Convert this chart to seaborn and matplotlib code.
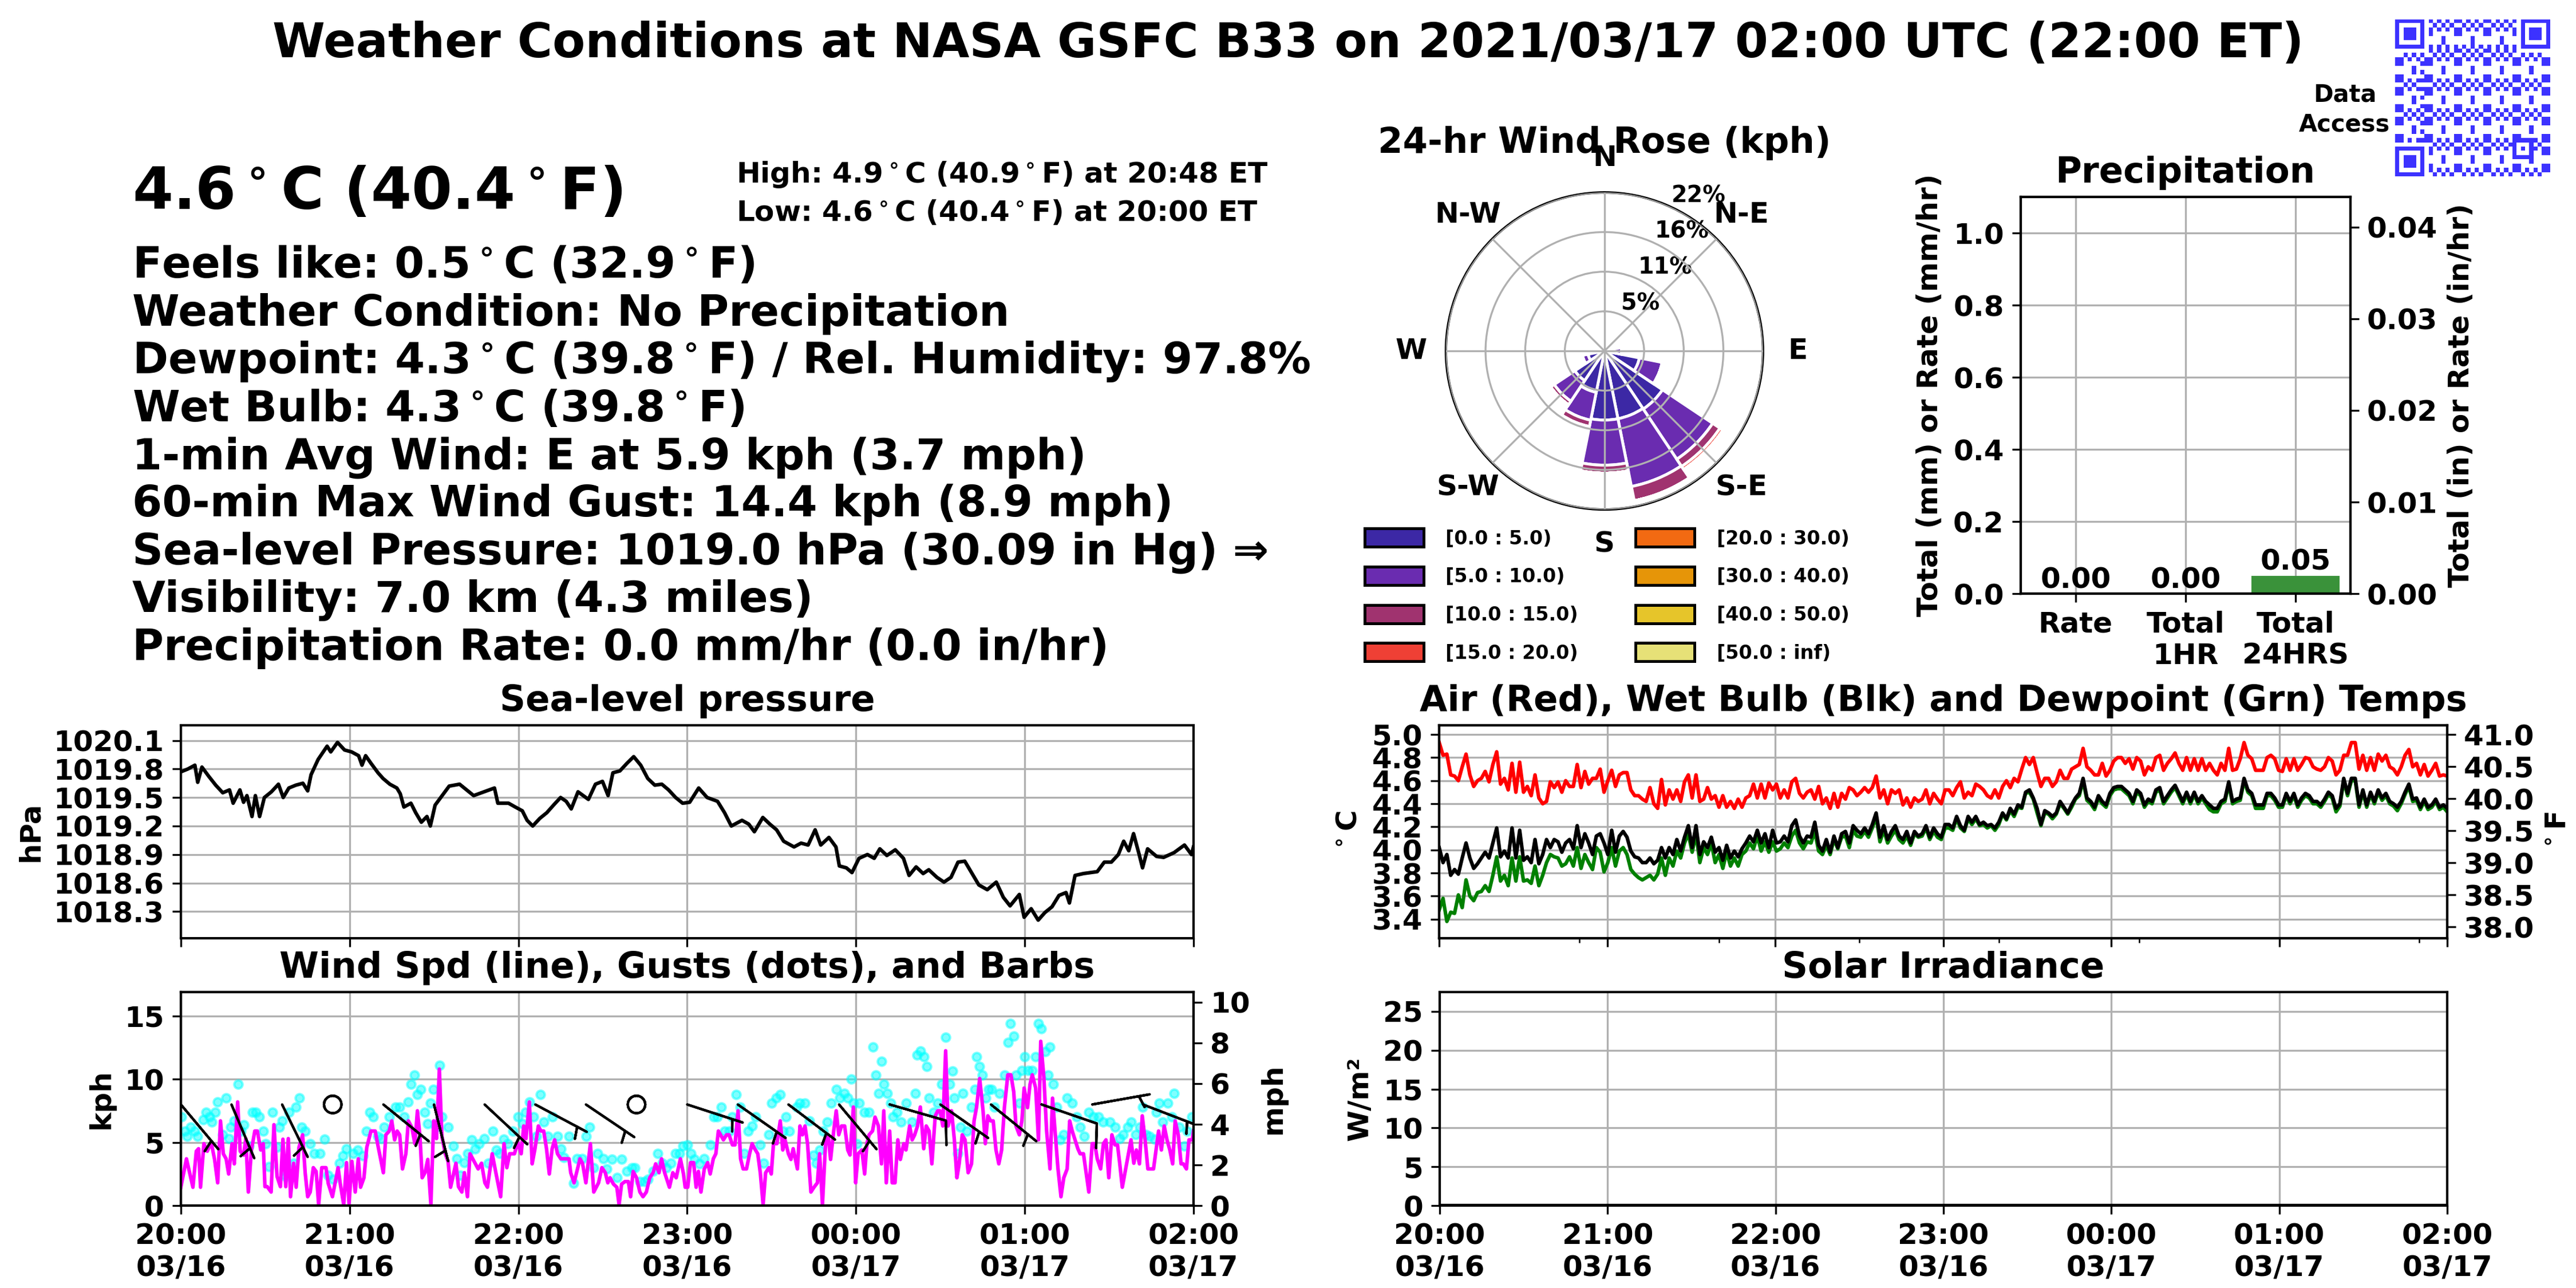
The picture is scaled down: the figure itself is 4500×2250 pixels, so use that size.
import numpy as np
import pandas as pd
import matplotlib
matplotlib.use('Agg')
import matplotlib.pyplot as plt
import matplotlib.dates as mdates
from matplotlib.patches import Patch
from matplotlib.colors import ListedColormap
from matplotlib.ticker import FixedLocator
import seaborn as sns

plt.rcParams['font.family'] = ['DejaVu Sans']
plt.rcParams['font.weight'] = 'bold'
plt.rcParams['axes.titleweight'] = 'bold'
plt.rcParams['axes.labelweight'] = 'bold'
plt.rcParams['font.size'] = 12
plt.rcParams['axes.titlesize'] = 15
plt.rcParams['axes.labelsize'] = 12
plt.rcParams['axes.linewidth'] = 1.0

# ---------------- data ----------------
start = pd.Timestamp('2021-03-16 20:00')
end = pd.Timestamp('2021-03-17 02:00')

# sea-level pressure (minutes after 20:00 UTC, hPa)
p_min = [0, 2.5, 5, 6, 7.5, 10, 12.4, 14.9, 17.3, 18.6,
         21, 22.3, 23.5, 25.3, 26.5, 28, 29.7, 32.2, 34.7, 36.4,
         38.4, 40.9, 43.4, 45.1, 46.3, 48.8, 52, 53.3, 55.7, 58.2,
         60.7, 63.2, 64.4, 65.7, 67.6, 70.1, 71.9, 74.3, 76.8, 78,
         79.3, 81.8, 83.5, 85.5, 87.5, 88.7, 90.4, 92.9, 95.4, 99.1,
         101.6, 104.1, 107.8, 111.5, 112.7, 116.5, 118.9, 121.4, 123.1, 125.1,
         127.6, 130.1, 132.5, 135, 137, 138.8, 141.2, 144.9, 147.4, 149.9,
         151.9, 153.6, 156.1, 158.6, 161, 163.5, 166, 168.5, 171, 173.4,
         175.9, 178.4, 180.9, 184.1, 187.1, 190.8, 193.3, 195.7, 199.5, 201.9,
         203.9, 206.9, 209.4, 211.8, 214.3, 218, 220.5, 223, 225.5, 227.5,
         230.4, 232.9, 234.1, 236.6, 238.6, 241.1, 244.1, 246.5, 248.5, 251,
         254, 256.9, 258.9, 261.4, 263.9, 265.9, 268.8, 271.3, 273.8, 276.3,
         278.7, 281.7, 283.7, 286.7, 289.9, 292.4, 294.8, 298.1, 299.8, 302.3,
         304.8, 307.2, 309.7, 312.2, 314.7, 315.9, 317.9, 320.9, 323.3, 325.8,
         328.3, 330.8, 333.3, 335.2, 337, 338.7, 340.7, 341.9, 343.7, 346.9,
         349.4, 353.1, 356.8, 359.3, 360]
p_hpa = [1019.77, 1019.80, 1019.84, 1019.66, 1019.82, 1019.72, 1019.63, 1019.55, 1019.58, 1019.44,
         1019.58, 1019.45, 1019.52, 1019.30, 1019.52, 1019.30, 1019.50, 1019.56, 1019.64, 1019.50,
         1019.60, 1019.63, 1019.65, 1019.57, 1019.74, 1019.90, 1020.04, 1019.98, 1020.08, 1020.00,
         1019.98, 1019.94, 1019.84, 1019.94, 1019.86, 1019.76, 1019.70, 1019.64, 1019.60, 1019.54,
         1019.40, 1019.44, 1019.34, 1019.24, 1019.30, 1019.20, 1019.42, 1019.52, 1019.62, 1019.64,
         1019.58, 1019.52, 1019.56, 1019.60, 1019.44, 1019.44, 1019.40, 1019.36, 1019.26, 1019.20,
         1019.28, 1019.34, 1019.42, 1019.50, 1019.46, 1019.38, 1019.56, 1019.48, 1019.64, 1019.67,
         1019.52, 1019.76, 1019.78, 1019.86, 1019.93, 1019.84, 1019.70, 1019.63, 1019.64, 1019.58,
         1019.50, 1019.44, 1019.45, 1019.60, 1019.50, 1019.46, 1019.34, 1019.20, 1019.26, 1019.22,
         1019.14, 1019.29, 1019.22, 1019.16, 1019.04, 1018.98, 1019.02, 1019.00, 1019.16, 1019.00,
         1019.08, 1018.98, 1018.78, 1018.76, 1018.71, 1018.86, 1018.90, 1018.86, 1018.96, 1018.89,
         1018.95, 1018.86, 1018.68, 1018.77, 1018.70, 1018.74, 1018.66, 1018.61, 1018.66, 1018.82,
         1018.83, 1018.68, 1018.58, 1018.53, 1018.61, 1018.45, 1018.36, 1018.48, 1018.24, 1018.33,
         1018.21, 1018.29, 1018.35, 1018.47, 1018.50, 1018.39, 1018.68, 1018.70, 1018.71, 1018.72,
         1018.82, 1018.82, 1018.90, 1019.04, 1018.94, 1019.12, 1018.90, 1018.76, 1018.96, 1018.88,
         1018.87, 1018.92, 1019.00, 1018.90, 1018.98]
p_ticks = [1018.3, 1018.6, 1018.9, 1019.2, 1019.5, 1019.8, 1020.1]

# 1-min wind speed (kph)
wind_min = [0.0, 2.0, 4.3, 5.5, 6.3, 7.0, 8.2, 9.4, 10.8, 12.0,
            13.1, 14.1, 15.1, 16.1, 17.0, 18.2, 19.0, 20.2, 21.1, 22.3,
            23.1, 24.0, 25.1, 26.3, 27.2, 28.4, 29.3, 29.9, 30.7, 32.1,
            33.1, 34.2, 35.4, 36.3, 37.3, 38.2, 39.0, 40.1, 41.0, 42.0,
            43.3, 44.2, 45.1, 46.0, 47.1, 48.1, 49.0, 50.1, 51.6, 52.4,
            53.9, 55.9, 56.7, 57.9, 58.9, 59.8, 60.8, 62.0, 63.1, 63.9,
            65.1, 66.1, 67.6, 69.1, 70.2, 72.0, 72.9, 74.1, 75.0, 76.0,
            76.9, 77.8, 78.8, 80.0, 80.9, 82.1, 83.2, 84.1, 85.0, 85.8,
            86.8, 87.8, 88.9, 89.9, 90.9, 91.9, 92.8, 94.0, 95.0, 95.9,
            97.8, 98.7, 99.9, 100.8, 101.9, 102.8, 104.6, 105.7, 106.9, 108.1,
            109.0, 110.7, 112.0, 113.7, 114.9, 115.9, 116.9, 118.6, 119.8, 121.0,
            121.9, 122.7, 123.9, 124.9, 125.9, 127.1, 128.0, 129.0, 130.0, 131.0,
            132.0, 132.9, 133.9, 135.1, 138.0, 138.6, 139.8, 141.9, 142.8, 144.0,
            145.6, 146.8, 148.5, 149.7, 150.9, 151.8, 152.6, 153.8, 155.0, 155.8,
            156.7, 157.9, 159.1, 159.9, 160.8, 162.0, 163.2, 164.3, 165.5, 166.7,
            167.9, 168.8, 170.0, 170.9, 172.0, 173.7, 174.9, 176.1, 177.6, 178.7,
            179.3,
            180.2, 181.2, 182.3, 183.2, 184.0, 184.9, 186.1, 187.3, 188.2, 189.3,
            190.2, 191.1, 192.9, 194.0, 194.9, 196.1, 197.0, 198.1, 199.0, 199.9,
            201.1, 202.2, 203.1, 204.0, 205.1, 206.0, 207.0, 207.9, 209.1, 209.9,
            210.7, 211.9, 213.1, 214.0, 214.8, 216.0, 216.9, 217.7, 219.2, 220.1,
            221.0, 221.9, 222.8, 224.0, 225.1, 226.3, 227.1, 228.1, 229.2, 230.1,
            231.0, 232.1, 233.0, 233.9, 234.9, 236.0, 237.1, 237.9, 239.1, 239.9,
            240.8, 242.1, 243.1, 243.9, 244.7, 245.9, 246.8, 248.0, 249.1, 249.9,
            250.8, 252.0, 252.9, 253.9, 254.9, 255.8, 257.0, 257.8, 259.1, 260.0,
            260.9, 261.9, 262.9, 264.1, 265.0, 266.0, 267.0, 268.2, 269.1, 269.9,
            270.9, 271.9, 272.8, 274.0, 275.0, 275.9, 276.7, 277.8, 278.8, 279.9,
            281.1, 282.0, 282.9, 284.0, 285.2, 286.0, 286.9, 287.9, 288.8, 289.8,
            290.8, 291.8, 292.8, 294.0, 295.1, 296.1, 296.9, 298.1, 299.0, 299.8,
            301.0, 301.9, 302.7, 303.9, 304.9, 305.7, 306.8, 307.8, 309.0, 309.9,
            310.8, 311.8, 312.9, 313.9, 315.1, 316.0, 316.9, 317.9, 318.9, 319.7,
            320.9, 321.9, 322.8, 324.0, 324.9, 325.8, 327.0, 328.0, 328.9, 329.9,
            331.0, 332.1, 333.0, 333.8, 334.7, 335.9, 336.9, 337.8, 338.8, 339.7,
            340.8, 341.8, 342.8, 343.8, 344.7, 345.8, 346.7, 347.6, 348.6, 349.6,
            350.6, 351.6, 352.6, 353.5, 354.6, 355.6, 356.4, 357.5, 358.4, 359.6,
            360.0]
wind_kph = [1.45, 3.7, 1.45, 4.3, 4.5, 1.45, 4.9, 4.3, 5.0, 3.65,
            1.8, 6.7, 4.1, 3.7, 2.5, 4.9, 3.3, 8.2, 4.3, 4.0,
            5.3, 1.07, 4.4, 5.9, 5.9, 4.4, 4.9, 1.5, 1.5, 1.07,
            6.4, 2.3, 1.5, 5.25, 1.5, 5.3, 0.7, 3.35, 1.45, 4.6,
            5.6, 2.6, 0.7, 1.07, 3.0, 2.7, 0.08, 3.0, 3.0, 1.75,
            0.7, 3.0, 1.7, 0.08, 3.4, 0.15, 3.5, 1.07, 3.7, 1.45,
            2.2, 4.6, 5.9, 5.9, 4.6, 2.6, 5.6, 5.9, 6.7, 5.2,
            5.9, 5.6, 2.9, 4.1, 6.7, 6.2, 4.9, 7.5, 5.5, 2.2,
            2.6, 3.65, 0.08, 6.7, 5.3, 10.8, 5.5, 4.1, 3.5, 1.45,
            3.35, 1.5, 1.07, 2.6, 0.7, 4.1, 3.35, 2.9, 3.35, 1.8,
            1.45, 4.1, 2.6, 0.7, 4.9, 3.0, 4.1, 4.1, 5.0, 4.1,
            6.3, 5.3, 8.2, 3.3, 4.5, 6.3, 5.9, 5.9, 4.5, 2.5,
            4.5, 5.2, 4.1, 3.7, 3.7, 2.6, 1.8, 3.7, 3.35, 1.8,
            4.9, 1.07, 1.8, 3.0, 2.6, 1.8, 2.2, 1.7, 1.45, 0.08,
            1.7, 1.9, 1.9, 0.7, 2.7, 2.2, 1.07, 0.7, 1.07, 2.2,
            2.6, 3.3, 2.6, 3.7, 2.6, 1.45, 2.6, 2.2, 3.7, 2.5,
            1.45,
            1.45, 3.4, 3.4, 1.45, 2.7, 1.07, 2.9, 3.4, 2.5, 3.7,
            4.1, 5.9, 5.2, 5.6, 5.6, 4.8, 4.8, 7.5, 3.7, 2.9,
            2.9, 4.1, 4.9, 4.5, 4.1, 2.6, 0.08, 2.6, 3.0, 2.5,
            4.9, 4.9, 6.7, 4.4, 5.2, 4.1, 3.65, 4.5, 2.9, 6.3,
            5.6, 6.3, 4.9, 1.07, 1.45, 1.8, 4.1, 0.08, 4.9, 5.6,
            3.65, 5.9, 7.5, 5.6, 6.3, 6.3, 4.4, 4.0, 7.8, 1.8,
            4.1, 4.4, 2.5, 4.9, 5.6, 5.9, 7.0, 6.3, 3.3, 7.5,
            1.8, 5.9, 1.8, 1.8, 5.2, 3.65, 4.9, 4.4, 6.3, 5.2,
            5.6, 6.3, 7.8, 4.5, 6.3, 5.9, 3.3, 7.1, 7.5, 7.5,
            6.3, 12.25, 6.3, 7.5, 5.2, 2.2, 3.3, 5.6, 5.2, 2.6,
            3.3, 6.7, 7.8, 10.05, 7.5, 4.9, 7.1, 6.7, 6.7, 4.4,
            3.3, 4.4, 7.8, 10.35, 10.35, 9.0, 6.3, 5.6, 6.7, 9.3,
            7.75, 9.6, 10.35, 9.3, 5.2, 13.0, 10.2, 5.9, 2.9, 8.5,
            5.9, 3.0, 0.7, 2.2, 2.9, 6.7, 5.9, 5.2, 4.5, 4.1,
            4.1, 2.5, 1.07, 4.9, 4.9, 3.7, 2.9, 4.9, 5.2, 2.2,
            5.6, 4.8, 4.8, 3.3, 1.45, 2.9, 4.1, 5.2, 3.35, 4.4,
            3.3, 7.1, 5.2, 2.9, 2.9, 2.9, 4.4, 5.9, 4.4, 6.3,
            5.2, 4.4, 3.3, 6.7, 5.6, 3.3, 3.3, 2.9, 5.2, 5.2,
            5.9]

# wind gusts (kph)
gust_min = [0.2, 1.4, 2.3, 3.5, 4.9, 5.9, 7.9, 9.0, 10.2, 11.0,
            12.2, 13.1, 14.9, 16.1, 17.2, 17.8, 19.0, 20.4, 21.3, 22.5,
            24.3, 25.4, 26.6, 27.8, 29.3, 30.1, 31.3, 32.5, 34.2, 35.1,
            36.1, 37.2, 38.5, 40.1, 41.0, 42.2, 43.0, 44.2, 46.0, 47.4,
            49.5, 51.2, 52.4, 54.2, 56.3, 57.7, 58.9, 61.2, 63.0, 64.7,
            65.9, 67.1, 68.5, 70.0, 71.2, 72.3, 74.1, 76.4, 77.8, 79.4,
            80.8, 81.8, 83.0, 84.1, 85.2, 86.8, 87.7, 88.7, 89.7, 90.7,
            92.0, 92.8, 95.0, 96.9, 98.1, 99.3, 100.8, 102.0, 103.4, 104.6,
            106.0, 107.9, 109.3, 111.0, 112.2, 113.4, 114.9, 116.3, 118.1, 119.8,
            121.6, 122.5, 123.9, 125.4, 126.3, 127.8, 129.0, 130.4, 132.1, 133.9,
            135.1, 136.2, 138.0, 139.7, 140.9, 142.7, 144.1, 145.4, 146.8, 148.2,
            150.3, 151.5, 153.2, 155.0, 156.7, 158.5, 160.3, 161.4, 163.2, 164.9,
            166.1, 167.9, 169.6, 171.2, 172.6, 174.3, 175.8, 177.3, 178.4,
            180.2, 181.4, 182.6, 184.3, 186.1, 188.2, 189.4, 190.8, 192.2, 193.4,
            194.9, 196.1, 197.5, 198.8, 200.2, 201.6, 203.1, 204.3, 206.0, 207.2,
            209.0, 210.1, 211.7, 213.1, 214.2, 215.2, 216.3, 218.9, 220.1, 221.9,
            223.4, 224.8, 226.0, 227.1, 228.3, 229.8, 231.2, 233.0, 234.2, 235.9,
            237.1, 238.3, 239.1, 240.3, 241.2, 243.0, 244.7, 246.1, 247.1, 248.0,
            249.1, 250.0, 251.2, 252.3, 253.2, 254.7, 256.1, 257.8, 260.0, 261.1,
            261.7, 263.0, 264.2, 265.2, 266.0, 267.6, 269.1, 270.5, 272.0, 273.4,
            274.3, 275.0, 276.1, 277.3, 278.1, 279.4, 281.1, 282.2, 283.0, 284.0,
            284.9, 286.1, 287.2, 288.1, 289.3, 291.0, 292.8, 294.0, 294.9, 296.1,
            296.9, 298.1, 298.9, 300.0, 301.2, 302.7, 303.9, 304.9, 305.9, 307.4,
            308.3, 309.0, 310.1, 311.3, 312.7, 313.9, 315.1, 316.8, 318.6, 319.7,
            321.1, 322.8, 324.4, 326.2, 327.9, 330.3, 332.1, 333.8, 335.0, 336.7,
            337.9, 339.4, 340.8, 342.0, 343.2, 344.4, 346.1, 346.9, 347.9, 349.0,
            350.8, 352.3, 353.2, 354.9, 356.7, 357.8, 359.4]
gust_kph = [7.0, 5.9, 5.5, 6.2, 5.9, 5.5, 6.8, 7.4, 7.0, 6.6,
            7.4, 8.2, 5.6, 8.5, 5.3, 6.2, 6.7, 9.6, 5.9, 6.4,
            4.7, 7.4, 7.4, 7.0, 5.9, 4.9, 3.1, 7.4, 4.6, 6.2,
            6.7, 2.3, 7.4, 3.35, 7.8, 8.5, 6.2, 5.9, 4.9, 4.1,
            4.1, 5.25, 2.4, 2.1, 3.35, 3.95, 4.5, 4.1, 4.4, 3.95,
            5.9, 7.4, 7.0, 5.5, 5.3, 6.2, 7.0, 7.8, 7.8, 7.0,
            8.2, 9.6, 10.35, 8.8, 9.2, 7.4, 6.5, 8.1, 9.2, 6.2,
            11.1, 7.0, 6.2, 4.7, 3.7, 2.4, 3.4, 4.1, 5.2, 4.5,
            4.9, 5.3, 3.35, 5.9, 4.4, 4.1, 5.25, 4.9, 5.9, 7.0,
            6.5, 7.4, 8.2, 7.0, 5.5, 8.8, 6.6, 5.5, 7.0, 5.5,
            4.5, 3.8, 5.5, 1.75, 3.7, 3.7, 5.5, 6.2, 3.0, 4.1,
            3.7, 2.9, 3.65, 2.2, 3.65, 2.7, 3.0, 3.0, 1.9, 1.9,
            2.1, 2.7, 4.1, 3.35, 3.0, 3.35, 4.1, 4.1, 4.7,
            4.8, 4.1, 3.65, 3.3, 3.7, 4.8, 7.0, 7.0, 7.8, 5.9,
            5.9, 7.0, 8.8, 7.8, 4.1, 5.9, 6.3, 7.0, 4.8, 3.35,
            5.6, 8.1, 8.5, 8.8, 5.9, 7.0, 5.9, 7.8, 8.1, 8.1,
            6.7, 4.0, 3.35, 4.4, 5.9, 6.6, 8.1, 9.2, 8.5, 8.9,
            8.5, 10.0, 8.1, 4.9, 8.1, 7.4, 7.4, 12.55, 10.35, 8.9,
            11.4, 9.6, 8.9, 8.1, 7.0, 7.4, 6.6, 8.1, 6.6, 8.9,
            11.9, 12.25, 11.8, 11.0, 8.5, 7.4, 8.1, 9.6, 13.3, 9.6,
            10.65, 8.5, 4.1, 6.2, 8.9, 5.9, 7.8, 9.2, 11.8, 11.0,
            10.35, 8.5, 9.2, 9.2, 7.8, 8.9, 10.35, 12.9, 14.4, 13.4,
            10.35, 8.1, 10.7, 11.8, 10.7, 10.7, 11.8, 14.4, 14.0, 12.2,
            10.35, 12.55, 9.6, 7.8, 5.2, 5.6, 8.5, 8.1, 7.0, 6.2,
            5.5, 7.4, 7.0, 7.0, 6.6, 6.6, 6.2, 5.3, 5.6, 6.2,
            6.6, 5.6, 6.2, 7.8, 5.6, 5.5, 5.25, 7.4, 8.1, 6.6,
            8.1, 7.0, 8.9, 6.2, 4.7, 5.9, 7.0]

# wind barbs every 18 min: direction wind comes from (deg) and speed (kph)
barb_min = [0, 18, 36, 54, 72, 90, 108, 126, 144, 162,
            180, 198, 216, 234, 252, 270, 288, 306, 324, 342]
barb_dir = [140, 157, 154, 0, 129, 166, 133, 118, 124, 0,
            108, 125, 127, 140, 106, 125, 129, 109, 80, 111]
barb_kph = [6, 6, 6, 1, 6, 6, 6, 6, 6, 1,
            6, 6, 6, 6, 10, 6, 6, 10, 6, 6]
barb_level = 8.0

# air, wet bulb and dewpoint temperature (deg C), evenly sampled 20:00-02:00
air_c = [4.93, 4.82, 4.83, 4.65, 4.64, 4.60, 4.72, 4.83, 4.65, 4.55,
         4.60, 4.62, 4.68, 4.59, 4.74, 4.85, 4.57, 4.62, 4.52, 4.75,
         4.50, 4.76, 4.50, 4.55, 4.47, 4.65, 4.45, 4.40, 4.42, 4.59,
         4.54, 4.59, 4.50, 4.60, 4.55, 4.55, 4.74, 4.54, 4.68, 4.57,
         4.62, 4.62, 4.70, 4.50, 4.60, 4.69, 4.55, 4.65, 4.67, 4.67,
         4.52, 4.47, 4.47, 4.44, 4.42, 4.54, 4.40, 4.36, 4.61, 4.39,
         4.52, 4.44, 4.52, 4.42, 4.59, 4.65, 4.45, 4.65, 4.42, 4.44,
         4.54, 4.44, 4.47, 4.37, 4.47, 4.37, 4.42, 4.36, 4.44, 4.37,
         4.45, 4.47, 4.57, 4.45, 4.57, 4.45, 4.58, 4.52, 4.57, 4.45,
         4.52, 4.45, 4.59, 4.62, 4.49, 4.45, 4.50, 4.52, 4.44, 4.55,
         4.40, 4.45, 4.36, 4.49, 4.37, 4.49, 4.44, 4.54, 4.52, 4.47,
         4.50, 4.54, 4.50, 4.54, 4.64, 4.45, 4.52, 4.40, 4.52, 4.49,
         4.52, 4.39, 4.45, 4.37, 4.45, 4.42, 4.44, 4.52, 4.40, 4.49,
         4.44, 4.40, 4.52, 4.52, 4.47, 4.54, 4.59, 4.45, 4.50, 4.47,
         4.57, 4.55, 4.52, 4.47, 4.45, 4.52, 4.45, 4.55, 4.60, 4.54,
         4.62, 4.59, 4.70, 4.80, 4.74, 4.80, 4.67, 4.55, 4.62, 4.62,
         4.55, 4.59, 4.69, 4.62, 4.62, 4.70, 4.72, 4.74, 4.88, 4.72,
         4.69, 4.65, 4.65, 4.75, 4.64, 4.69, 4.77, 4.80, 4.80, 4.75,
         4.79, 4.70, 4.80, 4.77, 4.65, 4.72, 4.69, 4.80, 4.82, 4.69,
         4.75, 4.79, 4.84, 4.75, 4.69, 4.80, 4.69, 4.79, 4.69, 4.79,
         4.69, 4.75, 4.69, 4.65, 4.75, 4.69, 4.88, 4.69, 4.70, 4.79,
         4.93, 4.82, 4.79, 4.69, 4.69, 4.69, 4.80, 4.82, 4.79, 4.69,
         4.68, 4.79, 4.69, 4.79, 4.69, 4.74, 4.80, 4.79, 4.72, 4.70,
         4.69, 4.72, 4.80, 4.77, 4.65, 4.69, 4.82, 4.82, 4.93, 4.93,
         4.70, 4.82, 4.69, 4.80, 4.69, 4.83, 4.77, 4.82, 4.72, 4.70,
         4.65, 4.72, 4.82, 4.87, 4.72, 4.75, 4.65, 4.74, 4.64, 4.69,
         4.75, 4.64, 4.65, 4.64]
wetbulb_c = [4.02, 3.89, 3.96, 3.78, 3.83, 3.79, 3.93, 4.06, 3.93, 3.84,
             3.88, 3.93, 3.98, 3.93, 4.06, 4.19, 3.94, 3.99, 3.93, 4.19,
             3.93, 4.17, 3.91, 3.94, 3.89, 4.09, 3.88, 3.96, 4.09, 4.02,
             4.09, 4.07, 3.98, 4.06, 4.09, 4.01, 4.21, 4.02, 4.14, 4.06,
             3.96, 4.12, 4.14, 4.06, 3.96, 4.17, 3.98, 4.12, 4.16, 4.11,
             3.99, 3.94, 3.93, 3.89, 3.89, 3.93, 3.88, 3.91, 4.02, 3.93,
             4.02, 3.96, 4.09, 3.99, 4.11, 4.21, 4.02, 4.21, 3.96, 4.07,
             4.02, 4.11, 3.98, 4.02, 3.91, 4.04, 3.93, 3.99, 3.94, 4.01,
             4.06, 4.12, 4.07, 4.17, 4.06, 4.14, 4.02, 4.17, 4.06, 4.07,
             4.12, 4.07, 4.21, 4.26, 4.12, 4.06, 4.12, 4.11, 4.24, 4.04,
             3.99, 4.09, 3.98, 4.12, 4.02, 4.14, 4.16, 4.06, 4.21, 4.17,
             4.14, 4.19, 4.14, 4.22, 4.32, 4.11, 4.21, 4.09, 4.16, 4.21,
             4.12, 4.09, 4.16, 4.06, 4.16, 4.12, 4.14, 4.21, 4.11, 4.19,
             4.14, 4.11, 4.22, 4.22, 4.19, 4.29, 4.21, 4.17, 4.29, 4.24,
             4.29, 4.22, 4.24, 4.21, 4.22, 4.19, 4.24, 4.32, 4.27, 4.36,
             4.31, 4.39, 4.37, 4.50, 4.52, 4.45, 4.36, 4.22, 4.34, 4.32,
             4.29, 4.32, 4.42, 4.37, 4.32, 4.39, 4.45, 4.49, 4.62, 4.45,
             4.42, 4.37, 4.47, 4.42, 4.39, 4.49, 4.54, 4.55, 4.55, 4.52,
             4.49, 4.42, 4.52, 4.49, 4.39, 4.44, 4.42, 4.52, 4.54, 4.42,
             4.47, 4.52, 4.56, 4.49, 4.42, 4.50, 4.42, 4.50, 4.42, 4.47,
             4.42, 4.39, 4.36, 4.36, 4.42, 4.44, 4.59, 4.42, 4.44, 4.45,
             4.62, 4.52, 4.49, 4.39, 4.39, 4.39, 4.49, 4.49, 4.45, 4.39,
             4.39, 4.49, 4.42, 4.49, 4.39, 4.45, 4.49, 4.47, 4.42, 4.42,
             4.39, 4.44, 4.50, 4.47, 4.36, 4.40, 4.62, 4.49, 4.62, 4.62,
             4.39, 4.52, 4.39, 4.50, 4.42, 4.52, 4.45, 4.49, 4.42, 4.40,
             4.37, 4.42, 4.50, 4.57, 4.44, 4.45, 4.37, 4.44, 4.37, 4.39,
             4.44, 4.37, 4.39, 4.36]
dewpoint_c = [3.48, 3.58, 3.38, 3.46, 3.45, 3.61, 3.50, 3.74, 3.60, 3.56,
              3.63, 3.64, 3.69, 3.64, 3.78, 3.94, 3.73, 3.78, 3.69, 3.93,
              3.73, 3.94, 3.73, 3.74, 3.71, 3.86, 3.69, 3.78, 3.89, 3.96,
              3.94, 3.93, 3.86, 3.88, 3.94, 3.86, 4.02, 3.84, 3.96, 3.89,
              3.83, 4.02, 3.98, 3.81, 3.89, 4.02, 3.86, 3.99, 4.02, 3.96,
              3.83, 3.79, 3.76, 3.74, 3.76, 3.78, 3.74, 3.79, 3.93, 3.78,
              3.93, 3.86, 3.99, 3.93, 4.06, 4.14, 3.98, 4.14, 3.89, 4.02,
              3.96, 4.06, 3.89, 3.96, 3.84, 3.98, 3.86, 3.93, 3.86, 3.96,
              3.99, 4.06, 4.01, 4.12, 3.99, 4.07, 3.98, 4.07, 3.99, 4.01,
              4.06, 4.02, 4.12, 4.17, 4.06, 4.01, 4.07, 4.06, 4.16, 3.99,
              3.96, 4.04, 3.96, 4.09, 4.01, 4.11, 4.12, 4.02, 4.17, 4.12,
              4.11, 4.16, 4.11, 4.19, 4.29, 4.07, 4.17, 4.06, 4.12, 4.17,
              4.09, 4.06, 4.12, 4.04, 4.14, 4.11, 4.12, 4.19, 4.09, 4.16,
              4.11, 4.09, 4.19, 4.19, 4.17, 4.27, 4.19, 4.16, 4.27, 4.22,
              4.27, 4.21, 4.22, 4.19, 4.21, 4.17, 4.22, 4.31, 4.26, 4.34,
              4.29, 4.37, 4.36, 4.49, 4.50, 4.44, 4.32, 4.21, 4.32, 4.31,
              4.27, 4.31, 4.40, 4.36, 4.31, 4.37, 4.44, 4.47, 4.60, 4.43,
              4.40, 4.35, 4.45, 4.40, 4.37, 4.47, 4.52, 4.53, 4.53, 4.50,
              4.47, 4.40, 4.50, 4.47, 4.37, 4.42, 4.40, 4.50, 4.52, 4.40,
              4.45, 4.50, 4.54, 4.47, 4.40, 4.48, 4.40, 4.48, 4.40, 4.45,
              4.40, 4.35, 4.33, 4.33, 4.40, 4.42, 4.57, 4.40, 4.42, 4.43,
              4.60, 4.50, 4.47, 4.36, 4.36, 4.36, 4.47, 4.47, 4.43, 4.37,
              4.37, 4.47, 4.40, 4.47, 4.37, 4.43, 4.47, 4.45, 4.40, 4.40,
              4.37, 4.42, 4.48, 4.45, 4.33, 4.38, 4.60, 4.47, 4.60, 4.60,
              4.37, 4.50, 4.37, 4.48, 4.40, 4.50, 4.43, 4.47, 4.40, 4.38,
              4.34, 4.40, 4.48, 4.55, 4.42, 4.43, 4.35, 4.42, 4.35, 4.37,
              4.42, 4.35, 4.37, 4.33]
temp_minor_min = [50, 100, 150, 200, 250, 350]

solar_min = [0, 60, 120, 180, 240, 300, 360]
solar_wm2 = [0, 0, 0, 0, 0, 0, 0]

precip_labels = ['Rate', 'Total\n1HR', 'Total\n24HRS']
precip_mm = [0.00, 0.00, 0.05]

# 24-hr wind rose, percent of time per sector and speed bin
rose_sectors = ['N', 'NNE', 'NE', 'ENE', 'E', 'ESE', 'SE', 'SSE',
                'S', 'SSW', 'SW', 'WSW', 'W', 'WNW', 'NW', 'NNW']
rose_bin_edges = [0.0, 5.0, 10.0, 15.0, 20.0, 30.0, 40.0, 50.0, np.inf]
rose_pct = [
    [0, 0, 0, 0.6, 1.2, 4.9, 9.6, 9.5, 9.5, 5.8, 4.9, 2.3, 0, 0, 0, 0],   # 0-5
    [0, 0, 0, 0, 1.2, 3.2, 8.3, 9.5, 6.2, 3.9, 3.4, 0.8, 0, 0, 0, 0],     # 5-10
    [0, 0, 0, 0, 0, 0, 1.2, 2.0, 1.1, 0.9, 0.6, 0, 0, 0, 0, 0],           # 10-15
    [0, 0, 0, 0, 0, 0, 0.5, 0, 0, 0, 0, 0, 0, 0, 0, 0],                   # 15-20
    [0] * 16, [0] * 16, [0] * 16, [0] * 16,
]
rose_colors = ['#3c28a5', '#6a2cb0', '#a0336f', '#ef4035',
               '#f26a12', '#e69508', '#e6c52a', '#e6e177']
rose_rmax = 21.8

title = "Weather Conditions at NASA GSFC B33 on 2021/03/17 02:00 UTC (22:00 ET)"
big_temp = "4.6$^\\circ$C (40.4$^\\circ$F)"
high_txt = "High: 4.9$^\\circ$C (40.9$^\\circ$F) at 20:48 ET"
low_txt = "Low: 4.6$^\\circ$C (40.4$^\\circ$F) at 20:00 ET"
info_lines = [
    "Feels like: 0.5$^\\circ$C (32.9$^\\circ$F)",
    "Weather Condition: No Precipitation",
    "Dewpoint: 4.3$^\\circ$C (39.8$^\\circ$F) / Rel. Humidity: 97.8%",
    "Wet Bulb: 4.3$^\\circ$C (39.8$^\\circ$F)",
    "1-min Avg Wind: E at 5.9 kph (3.7 mph)",
    "60-min Max Wind Gust: 14.4 kph (8.9 mph)",
    "Sea-level Pressure: 1019.0 hPa (30.09 in Hg) \u21d2",
    "Visibility: 7.0 km (4.3 miles)",
    "Precipitation Rate: 0.0 mm/hr (0.0 in/hr)",
]


def to_time(minutes):
    return start + pd.to_timedelta(np.asarray(minutes, dtype=float), unit='min')


def c2f(c):
    return c * 1.8 + 32


def time_axis(ax, labels=True):
    ax.set_xlim(start, end)
    ax.xaxis.set_major_locator(mdates.HourLocator())
    ax.xaxis.set_major_formatter(mdates.DateFormatter('%H:%M\n%m/%d'))
    ax.tick_params(axis='x', labelbottom=labels)
    ax.set_xlabel('')
    ax.grid(True)


fig = plt.figure(figsize=(15, 7.5), dpi=300)

# ---------------- header text ----------------
fig.text(0.5, 0.966, title, ha='center', va='center', fontsize=20)
fig.text(0.0513, 0.8378, big_temp, fontsize=24.5, va='baseline')
fig.text(0.2858, 0.8582, high_txt, fontsize=12, va='baseline')
fig.text(0.2858, 0.8284, low_txt, fontsize=12, va='baseline')
for k, line in enumerate(info_lines):
    fig.text(0.0513, 0.7844 - k * 0.0371, line, fontsize=18, va='baseline')

fig.text(0.9102, 0.9147, "Data\nAccess", ha='center', va='center', fontsize=10, linespacing=1.3)

# QR style block (decorative)
qr_n = 37
ii, jj = np.meshgrid(np.arange(qr_n), np.arange(qr_n), indexing='ij')
qr = (((ii * ii * 3 + jj * jj * 5 + ii * jj * 7 + ii + 2 * jj) % 7) < 3).astype(float)
qr[6, :] = (np.arange(qr_n) % 2 == 0)
qr[:, 6] = (np.arange(qr_n) % 2 == 0)
for r0, c0 in [(0, 0), (0, qr_n - 7), (qr_n - 7, 0)]:
    qr[max(r0 - 1, 0):r0 + 8, max(c0 - 1, 0):c0 + 8] = 0
    qr[r0:r0 + 7, c0:c0 + 7] = 1
    qr[r0 + 1:r0 + 6, c0 + 1:c0 + 6] = 0
    qr[r0 + 2:r0 + 5, c0 + 2:c0 + 5] = 1
qr[28:33, 28:33] = 1
qr[29:32, 29:32] = 0
qr[30, 30] = 1
ax_qr = fig.add_axes([0.9298, 0.8631, 0.06, 0.1218])
ax_qr.imshow(qr, cmap=ListedColormap(['white', '#3c32ff']), interpolation='nearest', aspect='auto')
ax_qr.axis('off')

# ---------------- wind rose ----------------
ax_rose = fig.add_axes([0.5613, 0.6044, 0.1231, 0.2462], projection='polar')
ax_rose.set_theta_zero_location('N')
ax_rose.set_theta_direction(-1)
theta = np.deg2rad(np.arange(16) * 22.5)
bottom = np.zeros(16)
for pct, col in zip(rose_pct, rose_colors):
    pct = np.asarray(pct, dtype=float)
    ax_rose.bar(theta, pct, width=np.deg2rad(22.5), bottom=bottom, color=col,
                edgecolor='white', linewidth=1.2, zorder=1)
    bottom += pct
ax_rose.set_ylim(0, rose_rmax)
ax_rose.set_yticks([rose_rmax * k / 4 for k in range(1, 5)])
ax_rose.set_yticklabels([f"{round(rose_rmax * k / 4)}%" for k in range(1, 5)], fontsize=9.5)
ax_rose.set_rlabel_position(25)
ax_rose.set_thetagrids(range(0, 360, 45), labels=['N', 'N-E', 'E', 'S-E', 'S', 'S-W', 'W', 'N-W'],
                       fontsize=12)
ax_rose.tick_params(axis='x', pad=4)
ax_rose.set_axisbelow(False)
ax_rose.grid(True, zorder=3)
fig.text(0.6229, 0.8889, "24-hr Wind Rose (kph)", ha='center', va='center', fontsize=15)

bin_labels = []
for lo, hi in zip(rose_bin_edges[:-1], rose_bin_edges[1:]):
    bin_labels.append(f"[{lo:.1f} : {hi:.1f})" if np.isfinite(hi) else f"[{lo:.1f} : inf)")
handles = [Patch(facecolor=c, edgecolor='black', linewidth=1.2) for c in rose_colors]
fig.legend(handles, bin_labels, loc='upper left', bbox_to_anchor=(0.526, 0.597), ncol=2,
           frameon=False, fontsize=8, handlelength=3.1, handleheight=1.1, labelspacing=0.97,
           handletextpad=1.15, columnspacing=3.0, borderpad=0)

# ---------------- precipitation ----------------
ax_r = fig.add_axes([0.7844, 0.5391, 0.128, 0.308])
sns.barplot(x=precip_labels, y=precip_mm, color='#2ca02c', ax=ax_r)
for cont in ax_r.containers:
    ax_r.bar_label(cont, fmt='%.2f', fontsize=12, fontweight='bold', padding=0)
ax_r.set_xlim(-0.5, 2.5)
ax_r.set_ylim(0, 1.1)
ax_r.set_yticks([0.0, 0.2, 0.4, 0.6, 0.8, 1.0])
ax_r.grid(True)
ax_r.set_axisbelow(True)
ax_r.set_title('Precipitation')
ax_r.set_ylabel('Total (mm) or Rate (mm/hr)')
ax_r2 = ax_r.twinx()
ax_r2.set_ylim(0, 1.1 / 25.4)
ax_r2.set_yticks([0.0, 0.01, 0.02, 0.03, 0.04])
ax_r2.set_yticklabels(['0.00', '0.01', '0.02', '0.03', '0.04'])
ax_r2.set_ylabel('Total (in) or Rate (in/hr)')

# ---------------- pressure ----------------
ax_p = fig.add_axes([0.0702, 0.2716, 0.3931, 0.1653])
sns.lineplot(x=to_time(p_min), y=p_hpa, ax=ax_p, color='black', lw=1.5, estimator=None)
time_axis(ax_p, labels=False)
ax_p.set_ylim(1018.02, 1020.26)
ax_p.set_yticks(p_ticks)
ax_p.set_yticklabels([f"{t:.1f}" for t in p_ticks])
ax_p.set_ylabel('hPa')
ax_p.set_title('Sea-level pressure')

# ---------------- wind ----------------
ax_w = fig.add_axes([0.0702, 0.064, 0.3931, 0.1658])
sns.scatterplot(x=to_time(gust_min), y=gust_kph, ax=ax_w, color='cyan', alpha=0.5, s=12,
                edgecolor='cyan', linewidth=1.0, zorder=2)
sns.lineplot(x=to_time(wind_min), y=wind_kph, ax=ax_w, color='magenta', lw=1.5,
             estimator=None, zorder=3)
bd = np.deg2rad(np.asarray(barb_dir, dtype=float))
bs = np.asarray(barb_kph, dtype=float)
ax_w.barbs(mdates.date2num(to_time(barb_min)), np.full(len(barb_min), barb_level),
           -bs * np.sin(bd), -bs * np.cos(bd), zorder=4, linewidth=1.0)
time_axis(ax_w)
ax_w.set_ylim(0, 16.9)
ax_w.set_yticks([0, 5, 10, 15])
ax_w.set_ylabel('kph')
ax_w.set_title('Wind Spd (line), Gusts (dots), and Barbs')
ax_w2 = ax_w.twinx()
ax_w2.set_ylim(0, 16.9 / 1.609)
ax_w2.set_yticks([0, 2, 4, 6, 8, 10])
ax_w2.set_ylabel('mph')

# ---------------- temperatures ----------------
temp_min = np.linspace(0, 360, len(air_c))
ax_t = fig.add_axes([0.5587, 0.2716, 0.3913, 0.1653])
sns.lineplot(x=to_time(temp_min), y=dewpoint_c, ax=ax_t, color='green', lw=1.5, estimator=None)
sns.lineplot(x=to_time(temp_min), y=wetbulb_c, ax=ax_t, color='black', lw=1.5, estimator=None)
sns.lineplot(x=to_time(temp_min), y=air_c, ax=ax_t, color='red', lw=1.5, estimator=None)
time_axis(ax_t, labels=False)
ax_t.xaxis.set_minor_locator(FixedLocator(mdates.date2num(to_time(temp_minor_min))))
ax_t.set_ylim(3.235, 5.08)
t_ticks = [3.4, 3.6, 3.8, 4.0, 4.2, 4.4, 4.6, 4.8, 5.0]
ax_t.set_yticks(t_ticks)
ax_t.set_yticklabels([f"{t:.1f}" for t in t_ticks])
ax_t.set_ylabel('$^\\circ$C')
ax_t.set_title('Air (Red), Wet Bulb (Blk) and Dewpoint (Grn) Temps')
ax_t2 = ax_t.twinx()
ax_t2.set_ylim(c2f(3.235), c2f(5.08))
f_ticks = [38.0, 38.5, 39.0, 39.5, 40.0, 40.5, 41.0]
ax_t2.set_yticks(f_ticks)
ax_t2.set_yticklabels([f"{t:.1f}" for t in f_ticks])
ax_t2.set_ylabel('$^\\circ$F')

# ---------------- solar ----------------
ax_s = fig.add_axes([0.5589, 0.064, 0.3911, 0.1658])
sns.lineplot(x=to_time(solar_min), y=solar_wm2, ax=ax_s, color='black', lw=1.5, estimator=None)
time_axis(ax_s)
ax_s.set_ylim(0, 27.5)
ax_s.set_yticks([0, 5, 10, 15, 20, 25])
ax_s.set_ylabel('W/m\u00b2')
ax_s.set_title('Solar Irradiance')

fig.savefig('out.png', dpi=300)
